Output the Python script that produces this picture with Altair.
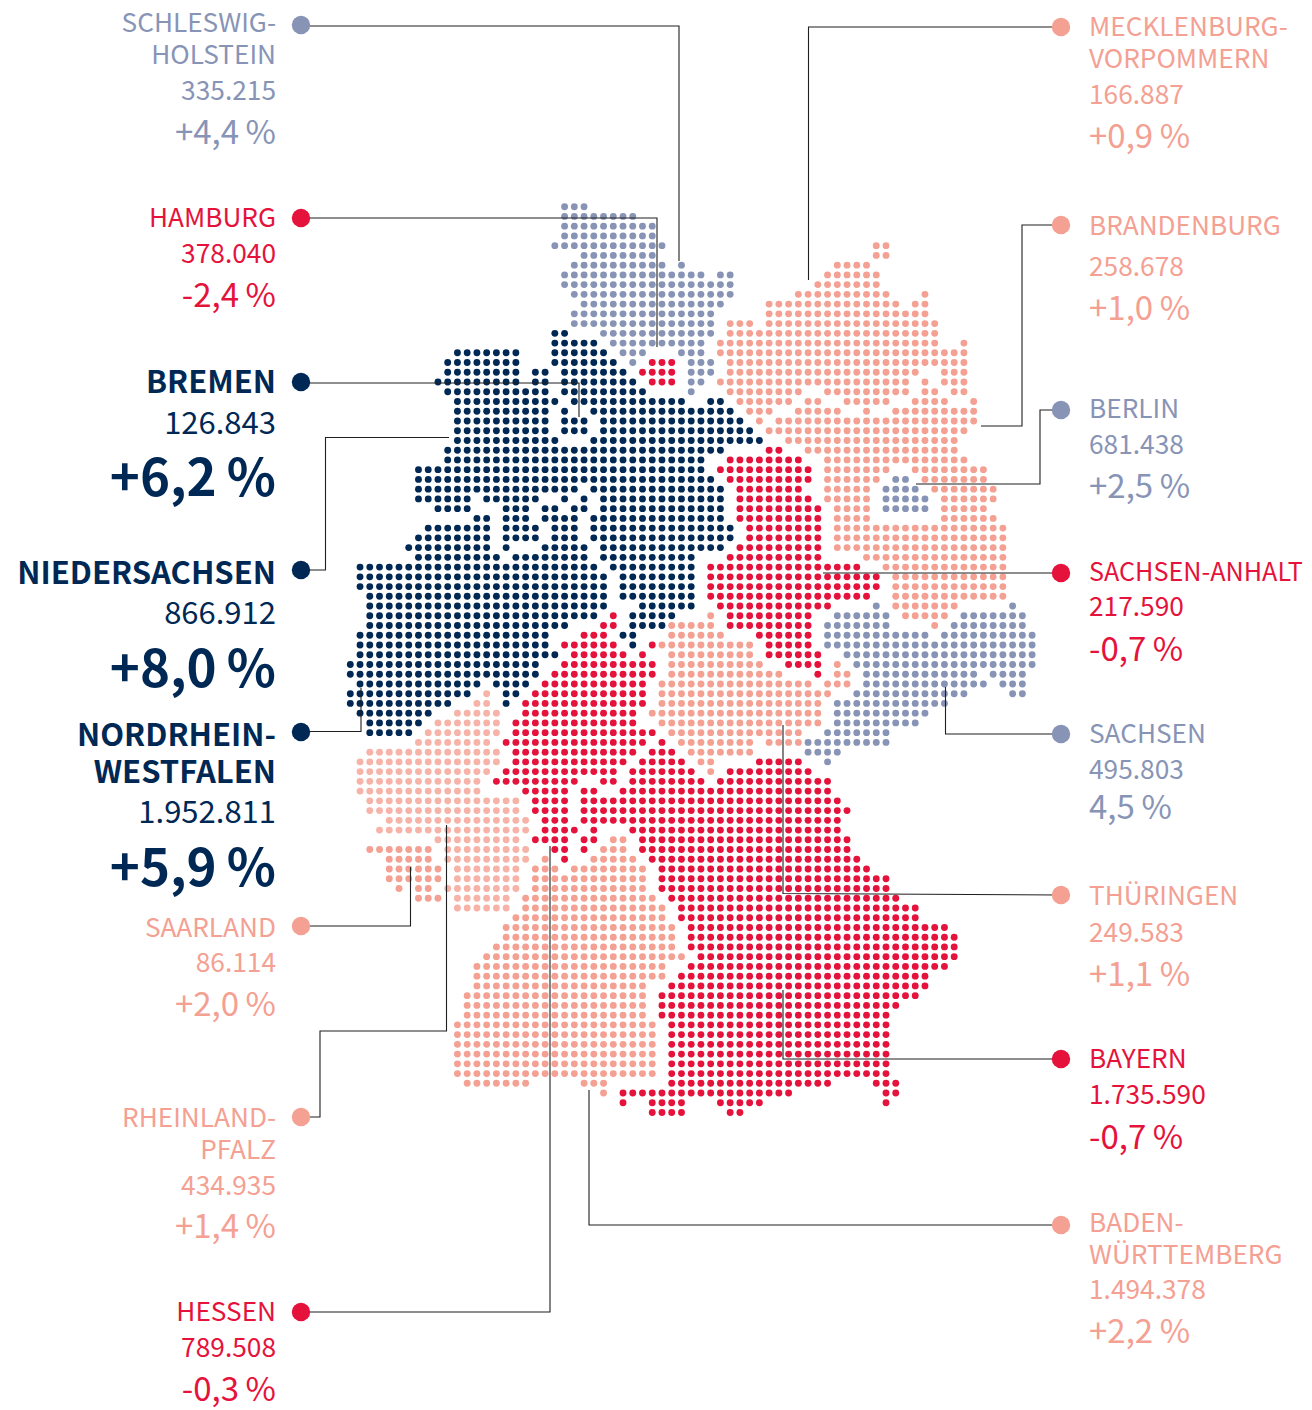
import altair as alt
import pandas as pd

# ---- map dots: (row, first column, last column) ----
NAVY_RUNS = [
 (13,21,22),(14,21,25),(15,11,17),(15,21,26),(16,10,17),(16,21,27),(17,10,17),(17,19,20),(17,22,28),
 (18,9,17),(18,19,20),(18,22,29),(19,10,20),(19,22,30),(20,11,21),(20,23,34),(20,37,38),
 (21,11,20),(21,22,22),(21,25,39),(22,11,20),(22,22,24),(22,26,40),(23,11,20),(23,22,24),(23,26,41),
 (24,11,21),(24,25,42),(25,10,38),(26,10,36),(27,7,36),(28,7,37),(29,7,23),(29,25,38),
 (30,7,12),(30,14,19),(30,22,22),(30,24,24),(30,26,38),(31,9,12),(31,16,18),(31,20,21),(31,23,24),(31,26,38),
 (32,13,14),(32,16,18),(32,20,23),(32,25,38),(33,8,14),(33,16,19),(33,21,23),(33,25,39),
 (34,7,14),(34,16,19),(34,21,23),(34,25,39),(35,6,14),(35,16,16),(35,20,24),(35,26,38),
 (36,7,15),(36,17,24),(36,26,35),(37,1,25),(37,27,35),(38,1,26),(38,28,35),(39,1,26),(39,28,35),
 (40,2,26),(40,28,35),(41,2,26),(41,30,35),(42,2,25),(42,29,33),(43,2,22),(43,29,32),
 (44,1,20),(44,28,29),(45,1,20),(45,29,29),(46,1,21),(47,0,19),(48,0,19),(49,1,13),(49,15,18),
 (50,0,12),(50,16,17),(51,0,10),(51,16,16),(52,1,8),(53,2,7),(54,2,6),
]
SLATE_RUNS = [
 (0,22,24),(1,22,29),(2,22,31),(3,22,31),(4,21,32),(5,24,31),(6,23,32),(6,34,34),(7,22,36),(7,38,39),
 (8,22,39),(9,23,39),(10,24,38),(11,23,37),(12,23,37),(13,26,37),(14,27,36),(15,28,30),(15,34,36),
 (16,29,29),(16,35,37),(17,35,37),(18,35,36),(19,35,35),
 (28,56,57),(29,55,58),(30,55,59),(31,55,59),
 (41,54,54),(41,68,68),(42,50,55),(42,63,69),(43,49,55),(43,62,69),(44,49,59),(44,61,70),(45,49,70),
 (46,51,70),(47,52,70),(48,53,64),(48,66,69),(49,53,65),(49,67,69),(50,52,63),(50,68,69),
 (51,50,61),(52,50,59),(53,50,58),(54,49,55),(55,47,55),(56,47,50),(57,49,49),
]
RED_RUNS = [
 (16,31,33),(17,30,33),(18,31,33),
 (25,43,44),(26,39,46),(27,38,47),(28,39,47),(29,40,46),(30,40,47),(31,40,48),(32,40,48),(33,41,48),
 (34,41,48),(35,40,48),(36,39,48),(37,37,52),(38,37,54),(39,37,54),(40,37,53),(41,38,49),
 (42,27,27),(42,39,47),(43,26,27),(43,39,47),(44,24,26),(44,42,47),(45,22,27),(45,31,31),(45,43,47),
 (46,23,28),(46,30,30),(46,43,48),(47,22,31),(47,45,48),(48,21,31),(48,48,48),(49,20,30),(50,19,30),
 (51,18,30),(52,18,29),(53,17,29),(54,17,31),(55,16,30),(55,32,32),(56,17,29),(56,31,33),
 (57,17,28),(57,30,34),(57,42,46),(58,16,27),(58,29,35),(58,39,47),(59,15,23),(59,26,27),(59,29,36),(59,38,49),
 (60,18,22),(60,24,25),(60,28,49),(61,19,22),(61,24,50),(62,19,22),(62,24,51),(63,20,22),(63,24,50),
 (64,20,23),(64,25,25),(64,29,50),(65,19,22),(65,24,25),(65,30,51),(66,21,22),(66,24,24),(66,30,51),
 (67,22,22),(67,31,52),(68,32,53),(69,32,55),(70,32,55),(71,33,56),(72,34,58),(73,34,58),(74,35,61),
 (75,35,62),(76,35,62),(77,36,62),(78,35,61),(79,34,59),(80,33,59),(81,32,58),(82,32,56),(83,32,55),
 (84,33,55),(85,33,55),(86,33,55),(87,33,55),(88,33,55),(89,33,55),(90,33,49),(90,54,56),
 (91,28,45),(91,55,56),(92,28,28),(92,31,34),(92,38,42),(92,55,55),(93,31,34),(93,39,40),
]
SALMON_RUNS = [
 (4,54,55),(5,54,55),(6,50,53),(7,49,54),(8,48,54),(9,46,55),(9,59,59),(10,43,56),(10,58,59),(11,43,59),
 (12,39,41),(12,43,60),(13,39,60),(14,38,60),(14,63,63),(15,38,63),(16,39,63),(17,39,58),(17,61,63),
 (18,38,57),(18,59,59),(18,61,63),(19,39,46),(19,49,57),(19,59,60),(19,62,63),(20,40,45),(20,47,48),
 (20,51,55),(20,58,61),(20,64,64),(21,41,43),(21,46,50),(21,53,53),(21,56,64),(22,42,42),(22,44,64),
 (23,43,63),(24,45,62),(25,47,62),(26,49,63),(27,49,55),(27,58,65),(28,49,54),(28,59,65),(29,49,53),
 (29,60,66),(30,49,53),(30,61,66),(31,50,53),(31,61,65),(32,50,53),(32,61,66),(33,50,67),(34,50,67),
 (35,50,67),(36,53,67),(37,55,67),(38,56,67),(39,56,67),(40,56,67),(41,56,62),(42,57,61),(43,60,60),
 (42,37,37),(43,34,37),(43,33,33),(44,33,38),(45,32,41),(46,33,41),(47,33,42),(47,50,50),(48,33,44),(48,50,51),
 (49,32,46),(49,47,47),(49,49,51),(50,32,49),(51,32,48),(52,31,48),(53,32,48),(54,33,46),(55,34,41),(55,43,46),
 (56,35,41),(57,36,37),(58,37,37),
 (65,27,28),(66,26,28),(67,20,20),(67,25,29),(68,19,21),(68,23,30),(69,19,30),(70,19,30),(71,18,31),
 (72,18,32),(73,17,32),(74,16,33),(75,16,33),(76,15,33),(77,14,34),(78,13,32),(79,13,32),(80,13,30),
 (81,12,30),(82,12,30),(83,12,30),(84,11,31),(85,11,31),(86,11,31),(87,11,31),(88,11,31),(89,11,31),
 (90,12,18),(90,24,26),(91,26,26),
 (66,2,8),(67,4,8),(68,4,9),(69,4,9),(70,5,5),(70,7,8),(71,7,9),
]
LIGHT_RUNS = [
 (50,14,14),(51,13,14),(52,11,15),(53,9,15),(54,8,15),(55,7,14),(56,2,15),(57,1,15),(58,1,14),(59,1,13),
 (60,1,13),(61,2,17),(62,2,17),(63,4,18),(64,3,18),(65,9,17),(66,10,18),(67,10,18),(68,11,17),(69,11,17),
 (70,10,17),(71,11,16),(72,11,16),
]

# ---- state labels: name lines, votes, change ----
LEFT_NAMES = [["SCHLESWIG-","HOLSTEIN"],["HAMBURG"],["BREMEN"],["NIEDERSACHSEN"],["NORDRHEIN-","WESTFALEN"],
              ["SAARLAND"],["RHEINLAND-","PFALZ"],["HESSEN"]]
LEFT_VOTES = ["335.215","378.040","126.843","866.912","1.952.811","86.114","434.935","789.508"]
LEFT_PCT = ["+4,4 %","-2,4 %","+6,2 %","+8,0 %","+5,9 %","+2,0 %","+1,4 %","-0,3 %"]
RIGHT_NAMES = [["MECKLENBURG-","VORPOMMERN"],["BRANDENBURG"],["BERLIN"],["SACHSEN-ANHALT"],["SACHSEN"],
               ["THÜRINGEN"],["BAYERN"],["BADEN-","WÜRTTEMBERG"]]
RIGHT_VOTES = ["166.887","258.678","681.438","217.590","495.803","249.583","1.735.590","1.494.378"]
RIGHT_PCT = ["+0,9 %","+1,0 %","+2,5 %","-0,7 %","4,5 %","+1,1 %","-0,7 %","+2,2 %"]

# ---- layout and style, kept apart from the values ----
NAVY, SLATE, RED, SALMON, LIGHT = "#002855", "#8894b6", "#e5123c", "#f4a093", "#f7b3a7"
LEFT_COL = [SLATE, RED, NAVY, NAVY, NAVY, SALMON, SALMON, RED]
RIGHT_COL = [SALMON, SALMON, SLATE, RED, SLATE, SALMON, RED, SALMON]
LEFT_BOLD = [False, False, True, True, True, False, False, False]
LEFT_BASE = [[32,64,100,144],[227,263,307],[393,434,496],[584,624,687],[746,783,823,886],[937,972,1016],[1127,1159,1195,1238],[1321,1357,1401]]
RIGHT_BASE = [[36,68,104,148],[235,276,320],[418,454,498],[581,616,661],[743,779,819],[905,942,986],[1068,1104,1149],[1232,1264,1299,1343]]
LEFT_DOT_Y = [25,218,382,570,732,926,1117,1312]
RIGHT_DOT_Y = [27,225,410,573,734,895,1059,1225]
LEADERS = [
 [(301,26),(679,26),(679,261)], [(301,218),(657,218),(657,347)], [(301,383),(579,383),(579,417)],
 [(301,570),(325.5,570),(325.5,437.5),(449,437.5)], [(301,731.5),(361,731.5),(361,688)],
 [(301,926),(410.5,926),(410.5,867)], [(301,1117),(320,1117),(320,1031),(446.5,1031),(446.5,825)],
 [(301,1312),(550,1312),(550,846)],
 [(1061,27),(808.5,27),(808.5,280)], [(1061,225),(1022,225),(1022,426),(981,426)],
 [(1061,410),(1040,410),(1040,484),(916,484)], [(1061,573),(823,573)],
 [(1061,734),(945.5,734),(945.5,687)], [(1061,895),(783,893.5),(783,725)],
 [(1061,1059),(783,1059),(783,990)], [(1061,1225),(589,1225),(589,1090)],
]
X0, Y0, STEP = 350.3, 206.7, 9.74
FONT = "Noto Sans CJK SC"

dots = []
for runs, col in [(NAVY_RUNS,NAVY),(SLATE_RUNS,SLATE),(RED_RUNS,RED),(SALMON_RUNS,SALMON),(LIGHT_RUNS,LIGHT)]:
    for r, a, b in runs:
        for c in range(a, b + 1):
            dots.append({"x": X0 + STEP * c, "y": Y0 + STEP * r, "c": col})
dots = pd.DataFrame(dots)

texts = []
def add(names, votes, pcts, cols, bases, xpos, side, bolds):
    for n, v, p, c, b, bd in zip(names, votes, pcts, cols, bases, bolds):
        for i, line in enumerate(n):
            size = 31 if bd else (25.2 if line == "SACHSEN-ANHALT" else 26.2)
            texts.append(dict(t=line, x=xpos, y=b[i], c=c, side=side, bold=bd, s=size))
        k = len(n)
        texts.append(dict(t=v, x=xpos, y=b[k], c=c, side=side, bold=False, s=31 if bd else 26.3))
        texts.append(dict(t=p, x=xpos, y=b[k+1], c=c, side=side, bold=bd, s=51 if bd else 33))
add(LEFT_NAMES, LEFT_VOTES, [p.replace(" ", "\u2009") for p in LEFT_PCT], LEFT_COL, LEFT_BASE, 276, "l", LEFT_BOLD)
add(RIGHT_NAMES, RIGHT_VOTES, [p.replace(" ", "\u2009") for p in RIGHT_PCT], RIGHT_COL, RIGHT_BASE, 1089, "r", [False]*8)
texts = pd.DataFrame(texts)

side = pd.DataFrame(
    [{"x": 301, "y": y, "c": c} for y, c in zip(LEFT_DOT_Y, LEFT_COL)] +
    [{"x": 1061, "y": y, "c": c} for y, c in zip(RIGHT_DOT_Y, RIGHT_COL)])
lines = pd.DataFrame([{"g": g, "o": i, "x": p[0], "y": p[1]} for g, path in enumerate(LEADERS) for i, p in enumerate(path)])

W, H = 1296, 1402
X = alt.X("x:Q", axis=None, scale=alt.Scale(domain=[8, 8 + W], range=[0, W], nice=False, zero=False))
Y = alt.Y("y:Q", axis=None, scale=alt.Scale(domain=[8, 8 + H], range=[0, H], nice=False, zero=False))
C = alt.Color("c:N", scale=None, legend=None)

dot_layer = alt.Chart(dots).mark_circle(size=47, opacity=1).encode(x=X, y=Y, color=C)
line_layer = alt.Chart(lines).mark_line(color="#1f1f1f", strokeWidth=1.1).encode(x=X, y=Y, detail="g:N", order="o:Q")
side_layer = alt.Chart(side).mark_circle(size=340, opacity=1).encode(x=X, y=Y, color=C)

def text_layer(df, align, weight):
    return alt.Chart(df).mark_text(font=FONT, align=align, baseline="alphabetic", fontWeight=weight).encode(
        x=X, y=Y, color=C, text="t:N", size=alt.Size("s:Q", scale=None, legend=None))

chart = alt.layer(
    dot_layer, line_layer, side_layer,
    text_layer(texts[(texts.side == "l") & (~texts.bold)], "right", 400),
    text_layer(texts[(texts.side == "l") & (texts.bold)], "right", 700),
    text_layer(texts[texts.side == "r"], "left", 400),
).properties(width=W, height=H, padding=0, autosize="none").configure_view(strokeWidth=0)

chart.save("out.html", embed_options={"renderer": "svg", "actions": False})
